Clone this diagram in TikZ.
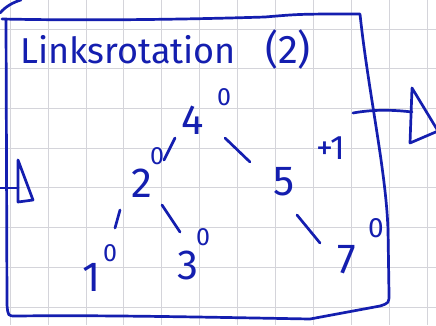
\documentclass[tikz,border=0pt]{standalone}
\usepackage{fontspec}
\setmainfont{Fira Sans}
\definecolor{ink}{RGB}{20,30,175}
\definecolor{gridline}{RGB}{212,212,218}
\tikzset{
  pen/.style={draw=ink, line width=2.7pt, line cap=round, line join=round},
  key/.style={text=ink, font=\fontsize{42}{42}\selectfont, inner sep=0pt},
  bal/.style={text=ink, font=\fontsize{25}{25}\selectfont, inner sep=0pt},
  heading/.style={text=ink, inner sep=0pt, anchor=base west},
  squared/.style={draw=gridline, line width=0.8pt},
}
\begin{document}
\begin{tikzpicture}[x=1pt,y=-1pt]
\useasboundingbox (0,0) rectangle (436,325);
\fill[white] (0,0) rectangle (436,325);

% squared paper
\foreach \i in {0,...,11}
  \draw[squared] ({10.1+37.9*\i},0) -- ({10.1+37.9*\i},325);
\foreach \j in {0,...,7}
  \draw[squared] (0,{29+39.7*\j}) -- (436,{29+39.7*\j});

% frame around the note
\draw[pen] (0,13) .. controls (6,6) and (14,2) .. (21,0);
\draw[pen] (2,19) .. controls (100,21) and (200,19) .. (265,17)
  .. controls (300,14) .. (360,14)
  .. controls (368,90) and (386,170) .. (388,230)
  -- (389,294)
  .. controls (389,303) .. (380,306)
  .. controls (345,313) .. (310,319)
  .. controls (200,317) and (100,315) .. (16,316)
  .. controls (8,316) .. (7,305)
  -- (6,20);

% marker on the left side
\draw[pen] (0,188) -- (18,188);
\draw[pen] (18,160) -- (33,200) -- (18,202) -- cycle;

% marker on the right side
\draw[pen] (353,113) .. controls (375,109) and (395,110) .. (412,112);
\draw[pen] (412,88) -- (438,131) -- (410,143) -- cycle;

% heading
\node[heading, font=\fontsize{36}{36}\selectfont] (ttl) at (20,63) {Linksrotation};
\node[heading, font=\fontsize{40}{40}\selectfont] (num) at (265,63) {(2)};

% keys of the tree
\node[key] (n4) at (193,120) {4};
\node[key] (n2) at (142,183) {2};
\node[key] (n5) at (284,182) {5};
\node[key] (n1) at (92,277) {1};
\node[key] (n3) at (188,265) {3};
\node[key] (n7) at (347,260) {7};

% balance factors
\node[bal] (b4) at (224,97) {0};
\node[bal] (b2) at (157,156) {0};
\node[bal, font=\fontsize{34}{34}\selectfont] (b5) at (331,148) {+1};
\node[bal] (b1) at (110,253) {0};
\node[bal] (b3) at (203,237) {0};
\node[bal, font=\fontsize{28}{28}\selectfont] (b7) at (376,228) {0};

% edges
\draw[pen] ([shift={(-18,18)}]n4.center) -- ([shift={(22,-23)}]n2.center);
\draw[pen] ([shift={(32,18)}]n4.center) -- ([shift={(-34,-20)}]n5.center);
\draw[pen] ([shift={(-22,27)}]n2.center) -- ([shift={(23,-49)}]n1.center);
\draw[pen] ([shift={(20,22)}]n2.center) -- ([shift={(-8,-33)}]n3.center);
\draw[pen] ([shift={(13,33)}]n5.center) -- ([shift={(-27,-17)}]n7.center);
\end{tikzpicture}
\end{document}
